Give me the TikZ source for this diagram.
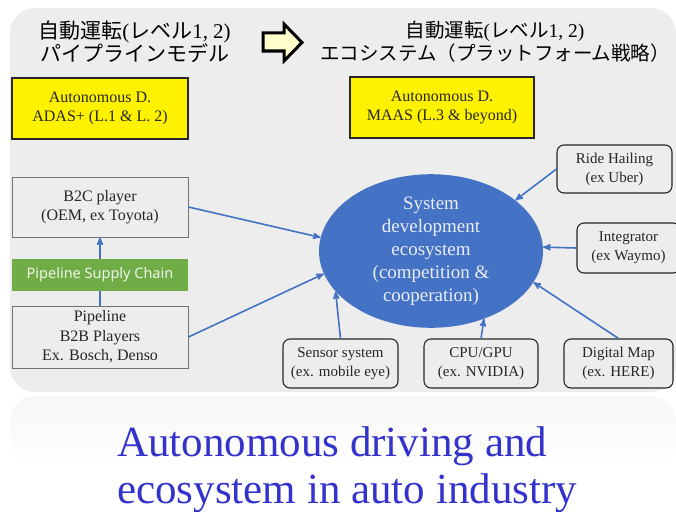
\documentclass[tikz,border=0pt]{standalone}
\usepackage{fontspec}
\setmainfont{Liberation Serif}
\newfontfamily\jpfont{Noto Sans CJK JP}
\newfontfamily\chainfont{Noto Sans}
\newcommand{\jptxt}[1]{{\jpfont #1}}
\usetikzlibrary{shapes}
\usetikzlibrary{arrows}
\definecolor{bggray}{HTML}{EDEDED}
\definecolor{ecoblue}{HTML}{4472C4}
\definecolor{chaingreen}{HTML}{70AD47}
\definecolor{titleblue}{HTML}{3333CC}
\definecolor{paleyellow}{HTML}{FFFFCC}
\tikzset{
	boxnode/.style = {align=center, inner sep=0pt, text centered,
		text=black!85, font=\fontsize{15}{19}\selectfont},
	levelbox/.style = {boxnode, rectangle, draw=black!85, fill=yellow,
		line width=1.3pt, minimum height=61pt, font=\fontsize{16}{19}\selectfont},% niveau de conduite
	player/.style = {boxnode, rectangle, draw=black!55, fill=bggray,
		line width=0.9pt, minimum width=176pt, font=\fontsize{16}{19.5}\selectfont},% acteur pipeline
	partner/.style = {boxnode, rectangle, rounded corners=7pt, draw=black!85,
		fill=bggray, line width=1.1pt, minimum height=49pt},% acteur ecosysteme
	flow/.style = {->, >=stealth', draw=ecoblue, line width=1.6pt}
}

\begin{document}
\begin{tikzpicture}[x=1pt,y=-1pt]
	\useasboundingbox (0,0) rectangle (676,511);
	\shade[top color=bggray!45, bottom color=white, rounded corners=25pt]
		(10,396) rectangle (676,470);
	\fill[bggray, rounded corners=25pt] (10,8) rectangle (676,392);

	% titres
	\node[align=center, inner sep=0pt, font=\fontsize{21}{23}\selectfont]
		(oldtitle) at (134.5,42) {\jptxt{自動運転}(\jptxt{レベル}1, 2)\\\jptxt{パイプラインモデル}};
	\node[align=center, inner sep=0pt, font=\fontsize{19.5}{23}\selectfont]
		(newtitle) at (495,42) {\jptxt{自動運転}(\jptxt{レベル}1, 2)\\\jptxt{エコシステム（プラットフォーム戦略）}};
	\draw[fill=paleyellow, line width=3pt, line join=miter]
		(263,33) -- (284,33) -- (284,24) -- (302,42.5) -- (284,61) -- (284,51) -- (263,51) -- cycle;

	\node[levelbox, minimum width=176pt] (adas) at (100,108.5) {Autonomous D.\\ADAS+ (L.1 \& L. 2)};
	\node[levelbox, minimum width=184pt] (maas) at (442,107.5) {Autonomous D.\\MAAS (L.3 \& beyond)};

	% pipeline
	\node[player, minimum height=60pt] (b2c) at (100,207) {B2C player\\(OEM, ex Toyota)};
	\node[rectangle, fill=chaingreen, minimum width=176pt, minimum height=32pt, inner sep=0pt,
		text=white!88!chaingreen, font=\chainfont\fontsize{14.5}{16}\selectfont]
		(chain) at (100,275) {Pipeline Supply Chain};
	\node[player, minimum height=62pt] (b2b) at (100,337) {Pipeline\\B2B Players\\Ex. Bosch, Denso};

	% ecosysteme
	\node[ellipse, fill=ecoblue, minimum width=224pt, minimum height=112pt, inner sep=0pt,
		align=center, text=white!88!ecoblue, font=\fontsize{19}{23}\selectfont]
		(eco) at (431,251) {System\\development\\ecosystem\\(competition \&\\cooperation)};
	\node[partner, minimum width=115pt, minimum height=48pt] (ride) at (614.5,169) {Ride Hailing\\(ex Uber)};
	\node[partner, minimum width=103pt, minimum height=50pt] (integ) at (628.5,248) {Integrator\\(ex Waymo)};
	\node[partner, minimum width=115pt] (sensor) at (340.5,363.5) {Sensor system\\(ex. mobile eye)};
	\node[partner, minimum width=114pt] (cpu) at (481,363.5) {CPU/GPU\\(ex. NVIDIA)};
	\node[partner, minimum width=109pt] (dmap) at (618.5,363.5) {Digital Map\\(ex. HERE)};

	\draw[flow] (chain.north) -- (b2c.south);
	\draw[draw=ecoblue, line width=1.6pt] (b2b.north) -- (chain.south);
	\draw[flow] (b2c.east) -- (eco.173);
	\draw[flow] (b2b.east) -- (eco.192);
	\draw[flow] (ride.west) -- (eco.31);
	\draw[flow] (integ.west) -- (eco.2);
	\draw[flow] (sensor.north) -- (eco.203);
	\draw[flow] (cpu.north) -- (eco.-52);
	\draw[flow] (dmap.north) -- (eco.-17);

	\node[anchor=north west, align=left, inner sep=0pt, text=titleblue,
		font=\fontsize{43}{47}\selectfont]
		(caption) at (117,426) {Autonomous driving and\\ecosystem in auto industry};
\end{tikzpicture}
\end{document}
